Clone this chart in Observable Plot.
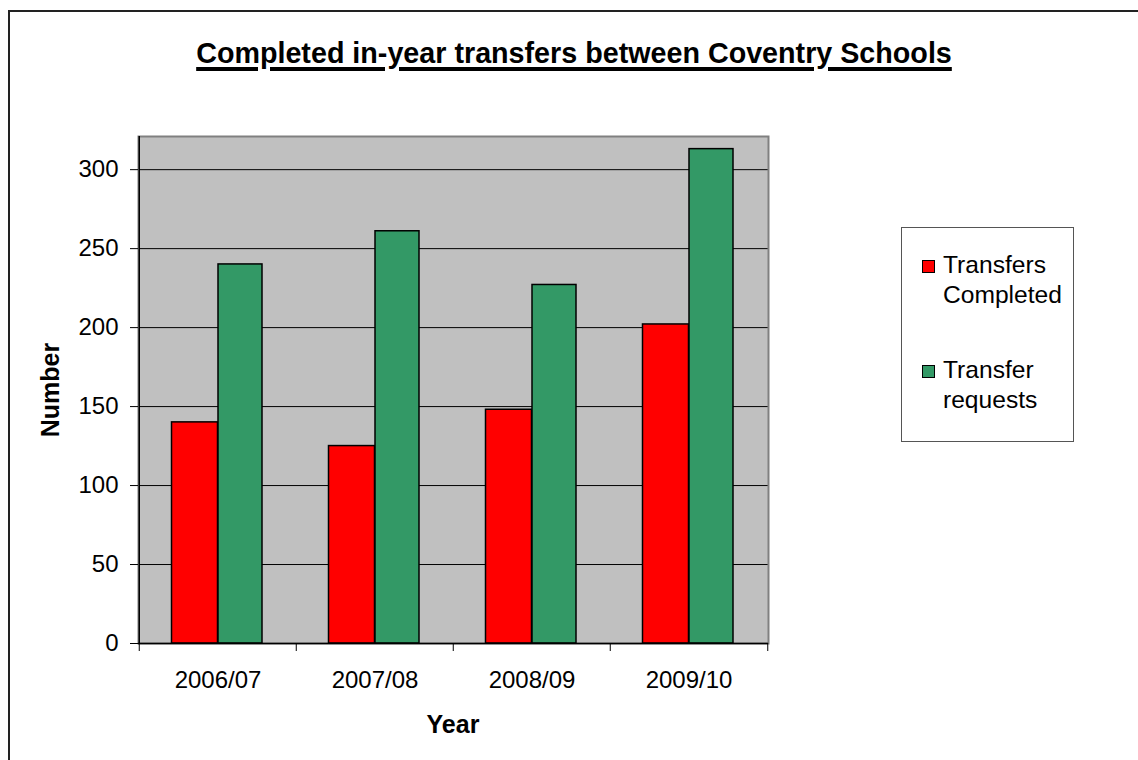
<!DOCTYPE html>
<html><head><meta charset="utf-8">
<script src="https://cdn.jsdelivr.net/npm/d3@7"></script>
<script src="https://cdn.jsdelivr.net/npm/@observablehq/plot@0.6"></script>
<style>
body{margin:0;background:#fff;font-family:Arial,"Liberation Sans",sans-serif;}
#wrap{position:relative;width:1138px;height:760px;overflow:hidden;}
#border{position:absolute;left:8px;top:10px;width:1300px;height:900px;border:2px solid #222;box-sizing:border-box;}
#chart{position:absolute;left:0;top:0;}
#title{position:absolute;left:0;width:1148px;top:39px;line-height:28px;text-align:center;font-weight:bold;font-size:28.7px;text-decoration:underline;text-decoration-thickness:4px;text-underline-offset:4px;color:#000;}
#xlab{position:absolute;left:353px;width:200px;top:712px;line-height:25px;text-align:center;font-weight:bold;font-size:25px;}
#ylab{position:absolute;left:50px;top:390px;line-height:25px;font-weight:bold;font-size:25px;transform:translate(-50%,-50%) rotate(-90deg);white-space:nowrap;}
#legend{position:absolute;left:901px;top:227px;width:173px;height:215px;border:1px solid #555;box-sizing:border-box;background:#fff;}
.sw{position:absolute;width:13px;height:13px;border:1px solid #000;box-sizing:border-box;}
.lt{position:absolute;font-size:24.6px;line-height:29.5px;white-space:nowrap;}
</style></head>
<body>
<div id="wrap">
  <div id="border"></div>
  <div id="chart"></div>
  <div id="title"></div>
  <div id="xlab"></div>
  <div id="ylab"></div>
  <div id="legend"></div>
</div>
<script>
const years = ["2006/07", "2007/08", "2008/09", "2009/10"];
const completed = [140, 125, 148, 202];
const requests = [240, 261, 227, 313];
const yTicks = [0, 50, 100, 150, 200, 250, 300];
const seriesNames = ["Transfers Completed", "Transfer requests"];
const legendLines = [["Transfers", "Completed"], ["Transfer", "requests"]];
const colors = ["#FF0000", "#339966"];
const titleText = "Completed in-year transfers between Coventry Schools";
const xTitle = "Year";
const yTitle = "Number";

const data = years.flatMap((yr, i) => [
  {year: yr, series: seriesNames[0], value: completed[i]},
  {year: yr, series: seriesNames[1], value: requests[i]}
]);

const W = 1138, H = 760, mL = 138, mR = 370, mT = 136, mB = 117;
const step = (W - mL - mR) / years.length;

const plot = Plot.plot({
  width: W, height: H,
  marginLeft: mL, marginRight: mR, marginTop: mT, marginBottom: mB,
  style: {fontFamily: 'Arial, "Liberation Sans", sans-serif', fontSize: "24px", background: "transparent", overflow: "visible", color: "#000"},
  x: {domain: years, padding: 0, label: null},
  y: {domain: [0, 321], label: null},
  color: {domain: seriesNames, range: colors},
  marks: [
    Plot.frame({fill: "#C0C0C0", stroke: null}),
    Plot.ruleY(yTicks.filter(d => d > 0), {stroke: "#000", strokeWidth: 1}),
    Plot.frame({stroke: "#808080", strokeWidth: 2}),
    Plot.barY(data.filter(d => d.series === seriesNames[0]), {x: "year", y: "value", fill: "series", stroke: "#000", strokeWidth: 1.5, insetLeft: 32.5, insetRight: 78.5}),
    Plot.barY(data.filter(d => d.series === seriesNames[1]), {x: "year", y: "value", fill: "series", stroke: "#000", strokeWidth: 1.5, insetLeft: 79, insetRight: 34}),
    Plot.ruleX([years[0]], {dx: -step / 2, stroke: "#000", strokeWidth: 1.5}),
    Plot.ruleY([0], {stroke: "#000", strokeWidth: 1.5}),
    Plot.ruleX(years, {dx: -step / 2, y1: 0, y2: 0, insetBottom: -8, stroke: "#000", strokeWidth: 1}),
    Plot.ruleX([years[years.length - 1]], {dx: step / 2, y1: 0, y2: 0, insetBottom: -8, stroke: "#000", strokeWidth: 1}),
    Plot.axisY({ticks: yTicks, tickSize: 8, tickPadding: 12, fontSize: 24, label: null}),
    Plot.axisX({tickSize: 0, tickPadding: 27, fontSize: 24, label: null})
  ]
});
document.getElementById("chart").appendChild(plot);

document.getElementById("title").textContent = titleText;
document.getElementById("xlab").textContent = xTitle;
document.getElementById("ylab").textContent = yTitle;

const lg = document.getElementById("legend");
const swTop = [32, 137];
legendLines.forEach((lines, i) => {
  const sw = document.createElement("div");
  sw.className = "sw";
  sw.style.left = "20px";
  sw.style.top = swTop[i] + "px";
  sw.style.background = colors[i];
  lg.appendChild(sw);
  const t = document.createElement("div");
  t.className = "lt";
  t.style.left = "41px";
  t.style.top = (swTop[i] - 10) + "px";
  t.innerHTML = lines.join("<br>");
  lg.appendChild(t);
});
</script>
</body></html>
